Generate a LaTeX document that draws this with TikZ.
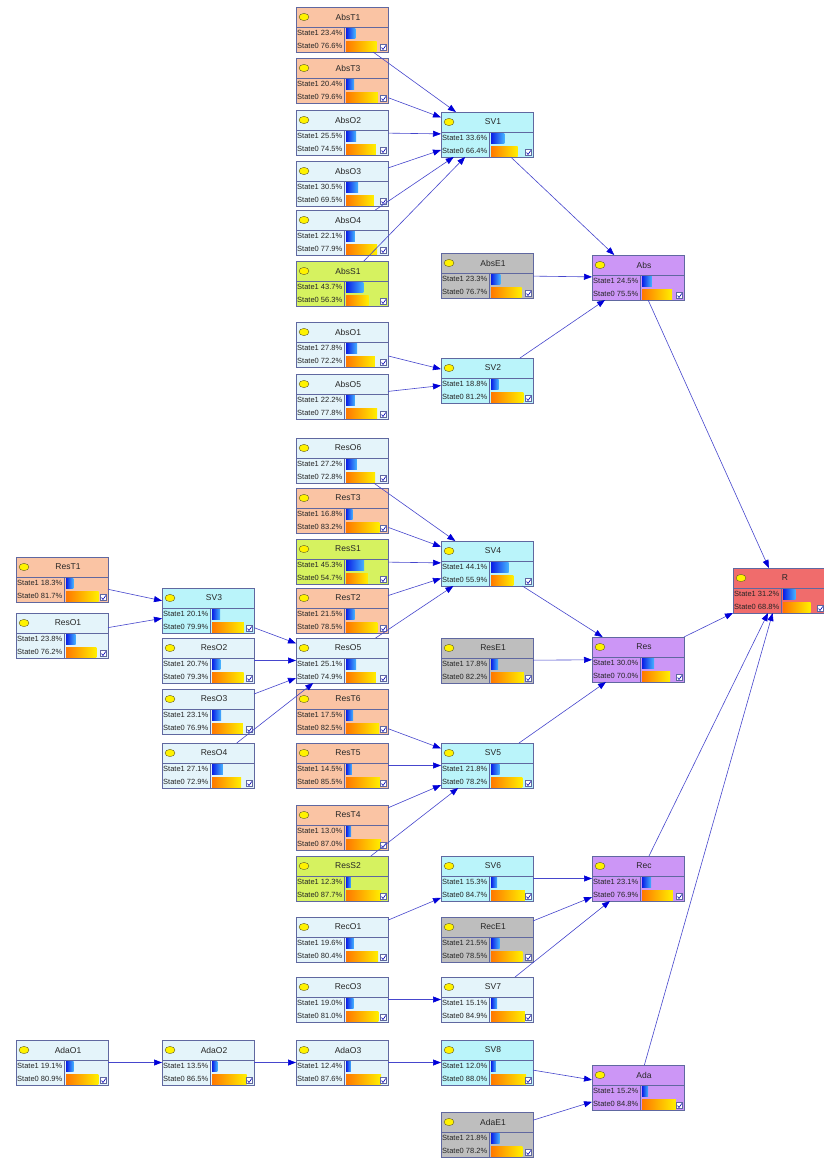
\documentclass[tikz,border=0pt]{standalone}
\usepackage{fontspec}
\setmainfont{Liberation Sans}
\usetikzlibrary{arrows.meta}

\definecolor{tcol}{RGB}{250,196,164}
\definecolor{ocol}{RGB}{228,244,250}
\definecolor{svcol}{RGB}{186,244,250}
\definecolor{scol}{RGB}{214,242,96}
\definecolor{ecol}{RGB}{190,190,190}
\definecolor{fcol}{RGB}{204,150,246}
\definecolor{rcol}{RGB}{240,108,108}
\definecolor{bncol}{RGB}{96,104,160}
\definecolor{edgecol}{RGB}{70,70,205}
\definecolor{barblue}{RGB}{10,30,230}
\definecolor{barsky}{RGB}{70,180,255}
\definecolor{barorange}{RGB}{255,120,0}
\definecolor{baryellow}{RGB}{255,240,0}

\tikzset{
  bnbox/.style={draw=bncol,line width=0.8pt,minimum width=92pt,minimum height=45pt,inner sep=0pt,outer sep=0pt},
  bnline/.style={draw=bncol,line width=0.6pt},
  bnname/.style={inner sep=0pt,text=black!85,font=\fontsize{8.5}{9}\selectfont},
  bnstate/.style={anchor=west,inner sep=0pt,text=black!85,font=\fontsize{7.5}{8}\selectfont},
  bnarrow/.style={draw=edgecol,line width=0.6pt,-{Triangle[length=8pt,width=6pt,color=blue!85!black]}}
}

% name, left, top, fill, state1, state0
\newcommand{\bnnode}[6]{%
  \node[bnbox,fill=#4] (#1) at (#2+46,#3+22.5) {};
  \draw[bnline] (#2,#3+20) -- (#2+92,#3+20) (#2+48,#3+20) -- (#2+48,#3+45);
  \draw[fill=yellow,draw=olive!60!black,line width=0.4pt] (#2+8,#3+10) ellipse (5 and 3.6);
  \node[bnname] at (#2+52,#3+10) {#1};
  \node[bnstate] at (#2+1,#3+26) {State1 #5\%};
  \node[bnstate] at (#2+1,#3+39) {State0 #6\%};
  \shade[left color=barblue,right color=barsky] (#2+50,#3+21.5) rectangle ({#2+50+0.4*#5},#3+31.5);
  \shade[left color=barorange,right color=baryellow] (#2+50,#3+34) rectangle ({#2+50+0.4*#6},#3+44);
  \draw[fill=white,draw=bncol,line width=0.4pt] (#2+84.5,#3+37.5) rectangle (#2+90.5,#3+43.5);
  \draw[blue!70!black,line width=0.6pt] (#2+85.5,#3+40.5) -- (#2+87,#3+42.5) -- (#2+89.8,#3+38.5);
}

\begin{document}
\begin{tikzpicture}[x=1pt,y=-1pt]
  \useasboundingbox[fill=white] (0,0) rectangle (823,1159);

  % absorption
  \bnnode{AbsT1}{296}{7}{tcol}{23.4}{76.6}
  \bnnode{AbsT3}{296}{58}{tcol}{20.4}{79.6}
  \bnnode{AbsO2}{296}{110}{ocol}{25.5}{74.5}
  \bnnode{AbsO3}{296}{161}{ocol}{30.5}{69.5}
  \bnnode{AbsO4}{296}{210}{ocol}{22.1}{77.9}
  \bnnode{AbsS1}{296}{261}{scol}{43.7}{56.3}
  \bnnode{AbsO1}{296}{322}{ocol}{27.8}{72.2}
  \bnnode{AbsO5}{296}{374}{ocol}{22.2}{77.8}
  \bnnode{SV1}{441}{112}{svcol}{33.6}{66.4}
  \bnnode{AbsE1}{441}{253}{ecol}{23.3}{76.7}
  \bnnode{SV2}{441}{358}{svcol}{18.8}{81.2}
  \bnnode{Abs}{592}{255}{fcol}{24.5}{75.5}

  % resistance
  \bnnode{ResT1}{16}{557}{tcol}{18.3}{81.7}
  \bnnode{ResO1}{16}{613}{ocol}{23.8}{76.2}
  \bnnode{SV3}{162}{588}{svcol}{20.1}{79.9}
  \bnnode{ResO2}{162}{638}{ocol}{20.7}{79.3}
  \bnnode{ResO3}{162}{689}{ocol}{23.1}{76.9}
  \bnnode{ResO4}{162}{743}{ocol}{27.1}{72.9}
  \bnnode{ResO6}{296}{438}{ocol}{27.2}{72.8}
  \bnnode{ResT3}{296}{488}{tcol}{16.8}{83.2}
  \bnnode{ResS1}{296}{539}{scol}{45.3}{54.7}
  \bnnode{ResT2}{296}{588}{tcol}{21.5}{78.5}
  \bnnode{ResO5}{296}{638}{ocol}{25.1}{74.9}
  \bnnode{ResT6}{296}{689}{tcol}{17.5}{82.5}
  \bnnode{ResT5}{296}{743}{tcol}{14.5}{85.5}
  \bnnode{ResT4}{296}{805}{tcol}{13.0}{87.0}
  \bnnode{ResS2}{296}{856}{scol}{12.3}{87.7}
  \bnnode{SV4}{441}{541}{svcol}{44.1}{55.9}
  \bnnode{ResE1}{441}{638}{ecol}{17.8}{82.2}
  \bnnode{SV5}{441}{743}{svcol}{21.8}{78.2}
  \bnnode{Res}{592}{637}{fcol}{30.0}{70.0}

  % recovery
  \bnnode{RecO1}{296}{917}{ocol}{19.6}{80.4}
  \bnnode{RecO3}{296}{977}{ocol}{19.0}{81.0}
  \bnnode{SV6}{441}{856}{svcol}{15.3}{84.7}
  \bnnode{RecE1}{441}{917}{ecol}{21.5}{78.5}
  \bnnode{SV7}{441}{977}{ocol}{15.1}{84.9}
  \bnnode{Rec}{592}{856}{fcol}{23.1}{76.9}

  % adaptation
  \bnnode{AdaO1}{16}{1040}{ocol}{19.1}{80.9}
  \bnnode{AdaO2}{162}{1040}{ocol}{13.5}{86.5}
  \bnnode{AdaO3}{296}{1040}{ocol}{12.4}{87.6}
  \bnnode{SV8}{441}{1040}{svcol}{12.0}{88.0}
  \bnnode{AdaE1}{441}{1112}{ecol}{21.8}{78.2}
  \bnnode{Ada}{592}{1065}{fcol}{15.2}{84.8}

  \bnnode{R}{733}{568}{rcol}{31.2}{68.8}

  \draw[bnarrow] (AbsT1) -- (SV1);
  \draw[bnarrow] (AbsT3) -- (SV1);
  \draw[bnarrow] (AbsO2) -- (SV1);
  \draw[bnarrow] (AbsO3) -- (SV1);
  \draw[bnarrow] (AbsO4) -- (SV1);
  \draw[bnarrow] (AbsS1) -- (SV1);
  \draw[bnarrow] (AbsO1) -- (SV2);
  \draw[bnarrow] (AbsO5) -- (SV2);
  \draw[bnarrow] (SV1) -- (Abs);
  \draw[bnarrow] (AbsE1) -- (Abs);
  \draw[bnarrow] (SV2) -- (Abs);
  \draw[bnarrow] (ResT1) -- (SV3);
  \draw[bnarrow] (ResO1) -- (SV3);
  \draw[bnarrow] (SV3) -- (ResO5);
  \draw[bnarrow] (ResO2) -- (ResO5);
  \draw[bnarrow] (ResO3) -- (ResO5);
  \draw[bnarrow] (ResO4) -- (ResO5);
  \draw[bnarrow] (ResO6) -- (SV4);
  \draw[bnarrow] (ResT3) -- (SV4);
  \draw[bnarrow] (ResS1) -- (SV4);
  \draw[bnarrow] (ResT2) -- (SV4);
  \draw[bnarrow] (ResO5) -- (SV4);
  \draw[bnarrow] (ResT6) -- (SV5);
  \draw[bnarrow] (ResT5) -- (SV5);
  \draw[bnarrow] (ResT4) -- (SV5);
  \draw[bnarrow] (ResS2) -- (SV5);
  \draw[bnarrow] (SV4) -- (Res);
  \draw[bnarrow] (ResE1) -- (Res);
  \draw[bnarrow] (SV5) -- (Res);
  \draw[bnarrow] (RecO1) -- (SV6);
  \draw[bnarrow] (RecO3) -- (SV7);
  \draw[bnarrow] (SV6) -- (Rec);
  \draw[bnarrow] (RecE1) -- (Rec);
  \draw[bnarrow] (SV7) -- (Rec);
  \draw[bnarrow] (AdaO1) -- (AdaO2);
  \draw[bnarrow] (AdaO2) -- (AdaO3);
  \draw[bnarrow] (AdaO3) -- (SV8);
  \draw[bnarrow] (SV8) -- (Ada);
  \draw[bnarrow] (AdaE1) -- (Ada);
  \draw[bnarrow] (Abs) -- (R);
  \draw[bnarrow] (Res) -- (R);
  \draw[bnarrow] (Rec) -- (R);
  \draw[bnarrow] (Ada) -- (R);
\end{tikzpicture}
\end{document}
